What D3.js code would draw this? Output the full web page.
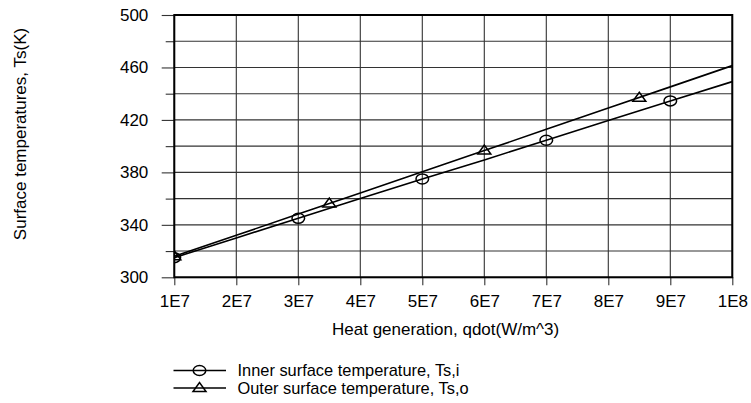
<!DOCTYPE html>
<html>
<head>
<meta charset="utf-8">
<script src="https://cdn.jsdelivr.net/npm/d3@7"></script>
<style>
  html, body { margin: 0; padding: 0; background: #fff; }
  svg { display: block; }
</style>
</head>
<body>
<svg id="chart" width="751" height="403"></svg>
<script>
// ---- data ----
const lineX = [1e7, 2e7, 3e7, 4e7, 5e7, 6e7, 7e7, 8e7, 9e7, 1e8];
const innerLine = [315, 330, 345, 360, 375, 389.5, 404.5, 419.5, 434.5, 449.2];
const outerLine = [316, 332, 348.2, 364.3, 380.4, 396.6, 412.8, 429, 445.2, 461.4];
const innerMarkX = [1e7, 3e7, 5e7, 7e7, 9e7];
const innerMarkY = [315, 345, 375, 404.5, 434.5];
const outerMarkX = [1e7, 3.5e7, 6e7, 8.5e7];
const outerMarkY = [316, 356.3, 396.6, 436.9];
const xTicks = [1e7, 2e7, 3e7, 4e7, 5e7, 6e7, 7e7, 8e7, 9e7, 1e8];
const xTickLabels = ["1E7", "2E7", "3E7", "4E7", "5E7", "6E7", "7E7", "8E7", "9E7", "1E8"];
const yMajor = [300, 340, 380, 420, 460, 500];
const yMinor = [320, 360, 400, 440, 480];
const seriesNames = ["Inner surface temperature, Ts,i", "Outer surface temperature, Ts,o"];
const xTitle = "Heat generation, qdot(W/m^3)";
const yTitle = "Surface temperatures, Ts(K)";

// ---- layout ----
const FONT = "Liberation Sans";
const FS = 17;
const FSL = 16.4;
const L = 174.3, R = 732.3, T = 15, B = 277.3;
const svg = d3.select("#chart");
const x = d3.scaleLinear().domain([1e7, 1e8]).range([L, R]);
const y = d3.scaleLinear().domain([300, 500]).range([B, T]);

svg.append("defs").append("clipPath").attr("id", "clip")
  .append("rect").attr("x", L).attr("y", T).attr("width", R - L).attr("height", B - T);

// gridlines
const grid = svg.append("g").attr("stroke", "#333").attr("stroke-width", 1.1);
yMajor.concat(yMinor).forEach(v => {
  grid.append("line").attr("x1", L).attr("x2", R).attr("y1", y(v)).attr("y2", y(v));
});
xTicks.forEach(v => {
  grid.append("line").attr("x1", x(v)).attr("x2", x(v)).attr("y1", T).attr("y2", B);
});

// y axis
const yAxis = svg.append("g").attr("transform", `translate(${L},0)`)
  .call(d3.axisLeft(y).tickValues(yMajor).tickSize(12.6).tickPadding(13.4).tickFormat(d3.format("d")));
yAxis.attr("font-size", FS).attr("font-family", FONT);
yAxis.select(".domain").remove();
yAxis.selectAll(".tick line").attr("stroke", "#333").attr("stroke-width", 1.1);
const yAxisMinor = svg.append("g").attr("transform", `translate(${L},0)`)
  .call(d3.axisLeft(y).tickValues(yMinor).tickSize(8.6).tickFormat(""));
yAxisMinor.select(".domain").remove();
yAxisMinor.selectAll(".tick line").attr("stroke", "#333").attr("stroke-width", 1.1);

// x axis
const xAxis = svg.append("g").attr("transform", `translate(0,${B})`)
  .call(d3.axisBottom(x).tickValues(xTicks).tickSize(8).tickPadding(10)
    .tickFormat((d, i) => xTickLabels[i]));
xAxis.attr("font-size", FS).attr("font-family", FONT);
xAxis.select(".domain").remove();
xAxis.selectAll(".tick line").attr("stroke", "#333").attr("stroke-width", 1.1);

// frame
svg.append("rect").attr("x", L).attr("y", T).attr("width", R - L).attr("height", B - T)
  .attr("fill", "none").attr("stroke", "#000").attr("stroke-width", 2);

// lines
const lineGen = d3.line().x(d => x(d[0])).y(d => y(d[1]));
const plot = svg.append("g").attr("clip-path", "url(#clip)");
[innerLine, outerLine].forEach(vals => {
  plot.append("path").datum(lineX.map((v, i) => [v, vals[i]]))
    .attr("d", lineGen).attr("fill", "none").attr("stroke", "#000").attr("stroke-width", 1.6);
});

// markers
function circle(g, cx, cy) {
  g.append("ellipse").attr("cx", cx).attr("cy", cy).attr("rx", 6.3).attr("ry", 5)
    .attr("fill", "none").attr("stroke", "#000").attr("stroke-width", 1.5);
}
function tri(g, cx, cy) {
  const w = 6.5, h = 9;
  g.append("path").attr("d", `M${cx - w},${cy + h / 2}L${cx + w},${cy + h / 2}L${cx},${cy - h / 2}Z`)
    .attr("fill", "none").attr("stroke", "#000").attr("stroke-width", 1.5);
}
innerMarkX.forEach((v, i) => circle(plot, x(v), y(innerMarkY[i])));
outerMarkX.forEach((v, i) => tri(plot, x(v), y(outerMarkY[i]) - 1));

// axis titles
svg.append("text").attr("x", 332).attr("y", 335).attr("text-anchor", "start")
  .attr("font-size", FS).attr("font-family", FONT).text(xTitle);
svg.append("text").attr("transform", "translate(26,134) rotate(-90)").attr("text-anchor", "middle")
  .attr("font-size", FS).attr("font-family", FONT).text(yTitle);

// legend
const leg = svg.append("g");
[370.5, 388].forEach((ly, i) => {
  leg.append("line").attr("x1", 173.5).attr("x2", 226).attr("y1", ly).attr("y2", ly)
    .attr("stroke", "#000").attr("stroke-width", 1.6);
  if (i === 0) circle(leg, 199.5, ly); else tri(leg, 199.5, ly - 1);
  leg.append("text").attr("x", 237.5).attr("y", ly + 5.5)
    .attr("font-size", FSL).attr("font-family", FONT).text(seriesNames[i]);
});
</script>
</body>
</html>
